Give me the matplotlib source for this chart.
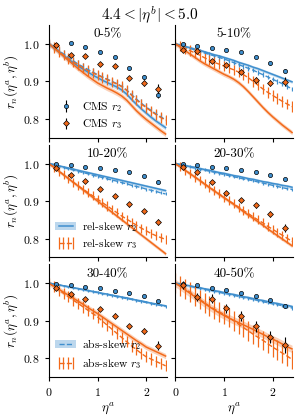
import matplotlib
matplotlib.use("Agg")

import numpy as np
import matplotlib.pyplot as plt
from matplotlib.patches import Patch
from matplotlib.lines import Line2D

plt.rcParams['font.family'] = 'serif'
plt.rcParams['font.serif'] = ['cmr10']
plt.rcParams['mathtext.fontset'] = 'cm'
plt.rcParams['axes.formatter.use_mathtext'] = True
plt.rcParams['axes.unicode_minus'] = False

BLUE = '#3f8fce'
ORANGE = '#f26a1b'

TITLES = ['0-5%', '5-10%', '10-20%', '20-30%', '30-40%', '40-50%']

# model curves on the eta^a grid
ETA = [0.0, 0.1, 0.2, 0.3, 0.4, 0.5, 0.6, 0.7, 0.8, 0.9, 1.0, 1.1, 1.2,
       1.3, 1.4, 1.5, 1.6, 1.7, 1.8, 1.9, 2.0, 2.1, 2.2, 2.3, 2.4]

R2_REL = [
    [1.000, 0.990, 0.980, 0.969, 0.959, 0.950, 0.941, 0.933, 0.925, 0.917, 0.910, 0.903, 0.897,
     0.891, 0.885, 0.877, 0.866, 0.852, 0.839, 0.827, 0.816, 0.805, 0.795, 0.786, 0.777],
    [1.000, 0.997, 0.993, 0.990, 0.986, 0.983, 0.979, 0.975, 0.971, 0.968, 0.964, 0.960, 0.956,
     0.951, 0.947, 0.943, 0.938, 0.934, 0.929, 0.924, 0.919, 0.914, 0.909, 0.904, 0.899],
    [1.000, 0.997, 0.994, 0.991, 0.988, 0.985, 0.982, 0.979, 0.976, 0.973, 0.970, 0.967, 0.964,
     0.961, 0.958, 0.955, 0.952, 0.949, 0.946, 0.943, 0.940, 0.937, 0.934, 0.931, 0.928],
    [1.000, 0.997, 0.995, 0.992, 0.990, 0.987, 0.984, 0.982, 0.979, 0.976, 0.974, 0.971, 0.968,
     0.966, 0.963, 0.960, 0.958, 0.955, 0.952, 0.950, 0.947, 0.945, 0.942, 0.940, 0.937],
    [1.000, 0.998, 0.996, 0.993, 0.991, 0.988, 0.986, 0.983, 0.981, 0.978, 0.976, 0.973, 0.971,
     0.968, 0.966, 0.963, 0.961, 0.958, 0.955, 0.953, 0.950, 0.947, 0.945, 0.942, 0.940],
    [1.000, 0.998, 0.995, 0.993, 0.990, 0.988, 0.985, 0.983, 0.980, 0.978, 0.975, 0.972, 0.970,
     0.967, 0.964, 0.962, 0.959, 0.956, 0.954, 0.951, 0.948, 0.946, 0.943, 0.941, 0.938],
]
R2_ABS = [
    [1.000, 0.991, 0.982, 0.973, 0.964, 0.955, 0.946, 0.939, 0.932, 0.925, 0.918, 0.912, 0.906,
     0.900, 0.894, 0.887, 0.877, 0.865, 0.853, 0.842, 0.832, 0.823, 0.814, 0.806, 0.798],
    [1.000, 0.996, 0.992, 0.988, 0.984, 0.980, 0.976, 0.972, 0.968, 0.964, 0.960, 0.955, 0.950,
     0.945, 0.940, 0.935, 0.930, 0.924, 0.918, 0.912, 0.906, 0.900, 0.894, 0.887, 0.880],
    [1.000, 0.997, 0.993, 0.990, 0.986, 0.983, 0.980, 0.976, 0.973, 0.969, 0.966, 0.963, 0.959,
     0.956, 0.953, 0.949, 0.946, 0.942, 0.939, 0.936, 0.932, 0.929, 0.926, 0.922, 0.919],
    [1.000, 0.997, 0.994, 0.991, 0.988, 0.985, 0.983, 0.980, 0.977, 0.974, 0.971, 0.968, 0.965,
     0.962, 0.959, 0.957, 0.954, 0.951, 0.948, 0.945, 0.942, 0.939, 0.936, 0.933, 0.931],
    [1.000, 0.998, 0.995, 0.993, 0.990, 0.988, 0.985, 0.983, 0.980, 0.978, 0.975, 0.972, 0.970,
     0.967, 0.964, 0.962, 0.959, 0.957, 0.954, 0.951, 0.949, 0.946, 0.943, 0.941, 0.938],
    [1.000, 0.997, 0.995, 0.992, 0.989, 0.987, 0.984, 0.981, 0.979, 0.976, 0.973, 0.971, 0.968,
     0.965, 0.962, 0.960, 0.957, 0.954, 0.951, 0.948, 0.945, 0.943, 0.940, 0.937, 0.934],
]
R3_REL = [
    [1.000, 0.989, 0.978, 0.967, 0.956, 0.945, 0.934, 0.924, 0.914, 0.905, 0.896, 0.889, 0.882,
     0.876, 0.869, 0.861, 0.850, 0.836, 0.822, 0.810, 0.799, 0.789, 0.779, 0.769, 0.760],
    [1.000, 0.991, 0.982, 0.973, 0.964, 0.955, 0.947, 0.940, 0.933, 0.926, 0.919, 0.913, 0.906,
     0.897, 0.886, 0.873, 0.859, 0.845, 0.831, 0.818, 0.806, 0.795, 0.784, 0.774, 0.764],
    [1.000, 0.990, 0.980, 0.970, 0.960, 0.950, 0.940, 0.930, 0.920, 0.910, 0.900, 0.890, 0.880,
     0.870, 0.860, 0.850, 0.840, 0.830, 0.820, 0.810, 0.800, 0.790, 0.780, 0.770, 0.760],
    [1.000, 0.991, 0.982, 0.973, 0.964, 0.955, 0.945, 0.936, 0.927, 0.918, 0.909, 0.900, 0.891,
     0.882, 0.872, 0.863, 0.854, 0.845, 0.836, 0.826, 0.817, 0.808, 0.799, 0.790, 0.781],
    [1.000, 0.992, 0.984, 0.976, 0.968, 0.960, 0.952, 0.944, 0.935, 0.927, 0.919, 0.910, 0.901,
     0.892, 0.883, 0.874, 0.865, 0.856, 0.847, 0.839, 0.830, 0.824, 0.818, 0.812, 0.806],
    [1.000, 0.991, 0.982, 0.973, 0.964, 0.955, 0.946, 0.937, 0.929, 0.921, 0.914, 0.907, 0.901,
     0.895, 0.889, 0.883, 0.877, 0.870, 0.864, 0.857, 0.851, 0.845, 0.838, 0.831, 0.825],
]
R3_ABS = [
    [1.000, 0.990, 0.980, 0.970, 0.961, 0.952, 0.944, 0.936, 0.929, 0.923, 0.917, 0.911, 0.905,
     0.899, 0.893, 0.886, 0.876, 0.863, 0.851, 0.840, 0.830, 0.821, 0.812, 0.804, 0.797],
    [1.000, 0.994, 0.988, 0.982, 0.976, 0.970, 0.963, 0.957, 0.951, 0.946, 0.941, 0.936, 0.931,
     0.925, 0.918, 0.910, 0.900, 0.890, 0.880, 0.871, 0.863, 0.855, 0.847, 0.840, 0.833],
    [1.000, 0.990, 0.980, 0.970, 0.960, 0.950, 0.941, 0.932, 0.923, 0.914, 0.905, 0.896, 0.887,
     0.878, 0.869, 0.860, 0.852, 0.844, 0.836, 0.828, 0.821, 0.814, 0.808, 0.803, 0.798],
    [1.000, 0.991, 0.982, 0.973, 0.964, 0.955, 0.946, 0.937, 0.928, 0.919, 0.910, 0.901, 0.893,
     0.884, 0.875, 0.867, 0.858, 0.850, 0.842, 0.833, 0.825, 0.817, 0.809, 0.801, 0.793],
    [1.000, 0.991, 0.982, 0.973, 0.964, 0.955, 0.946, 0.937, 0.928, 0.919, 0.910, 0.899, 0.888,
     0.877, 0.866, 0.855, 0.844, 0.833, 0.823, 0.813, 0.804, 0.798, 0.792, 0.786, 0.780],
    [1.000, 0.993, 0.985, 0.976, 0.966, 0.957, 0.948, 0.939, 0.931, 0.924, 0.917, 0.909, 0.900,
     0.891, 0.882, 0.873, 0.864, 0.856, 0.848, 0.839, 0.830, 0.822, 0.814, 0.806, 0.797],
]
# band half widths / error bar sizes per panel
R2_BAND = [0.006, 0.004, 0.004, 0.004, 0.003, 0.004]
R3_BAND = [0.007, 0.006, 0.005, 0.005, 0.007, 0.010]
R2_ERR = [0.010, 0.006, 0.004, 0.004, 0.003, 0.004]
R3_ERR = [0.014, 0.014, 0.012, 0.012, 0.015, 0.026]

# CMS data
CMS_ETA = [0.15, 0.45, 0.75, 1.05, 1.35, 1.65, 1.95, 2.25]
CMS_R2 = [
    [0.998, 1.002, 0.992, 0.978, 0.965, 0.935, 0.911, 0.865],
    [1.000, 0.995, 0.990, 0.984, 0.979, 0.966, 0.948, 0.929],
    [1.000, 0.996, 0.991, 0.988, 0.983, 0.977, 0.966, 0.952],
    [1.000, 0.996, 0.992, 0.989, 0.984, 0.978, 0.969, 0.959],
    [0.998, 0.994, 0.991, 0.987, 0.980, 0.974, 0.966, 0.952],
    [0.997, 0.994, 0.988, 0.983, 0.975, 0.967, 0.956, 0.939],
]
CMS_R3 = [
    [0.996, 0.971, 0.969, 0.946, 0.941, 0.909, 0.897, 0.881],
    [0.984, 0.980, 0.955, 0.944, 0.926, 0.904, 0.895, 0.899],
    [0.989, 0.969, 0.953, 0.931, 0.914, 0.891, 0.874, 0.845],
    [0.990, 0.978, 0.951, 0.921, 0.904, 0.889, 0.866, 0.829],
    [0.987, 0.970, 0.958, 0.931, 0.914, 0.886, 0.873, 0.834],
    [0.995, 0.963, 0.959, 0.933, 0.913, 0.885, 0.858, 0.835],
]
CMS_R2_ERR = [
    [0.002, 0.002, 0.002, 0.003, 0.003, 0.004, 0.005, 0.010],
    [0.002, 0.002, 0.002, 0.002, 0.002, 0.002, 0.003, 0.005],
    [0.002, 0.002, 0.002, 0.002, 0.002, 0.002, 0.002, 0.003],
    [0.002, 0.002, 0.002, 0.002, 0.002, 0.002, 0.002, 0.003],
    [0.002, 0.002, 0.002, 0.002, 0.002, 0.002, 0.002, 0.003],
    [0.002, 0.002, 0.002, 0.002, 0.002, 0.002, 0.003, 0.004],
]
CMS_R3_ERR = [
    [0.003, 0.003, 0.004, 0.004, 0.005, 0.006, 0.008, 0.013],
    [0.003, 0.004, 0.004, 0.005, 0.006, 0.007, 0.008, 0.012],
    [0.003, 0.004, 0.004, 0.005, 0.005, 0.006, 0.006, 0.008],
    [0.003, 0.004, 0.004, 0.005, 0.005, 0.006, 0.007, 0.010],
    [0.003, 0.004, 0.005, 0.005, 0.006, 0.006, 0.007, 0.012],
    [0.010, 0.010, 0.012, 0.012, 0.013, 0.014, 0.016, 0.022],
]


def draw_panel(ax, i):
    x = np.array(ETA)
    r2 = np.array(R2_REL[i])
    r3 = np.array(R3_REL[i])
    ax.fill_between(x, r2 - R2_BAND[i], r2 + R2_BAND[i], color=BLUE, alpha=0.3, lw=0)
    ax.plot(x, r2, color=BLUE, lw=1.1)
    ax.fill_between(x, r3 - R3_BAND[i], r3 + R3_BAND[i], color=ORANGE, alpha=0.3, lw=0)
    ax.plot(x, r3, color=ORANGE, lw=1.1)
    e2 = ax.errorbar(ETA, R2_ABS[i], yerr=R2_ERR[i], color=BLUE, ls='--', lw=1.0,
                     elinewidth=0.9, capsize=0)
    e3 = ax.errorbar(ETA, R3_ABS[i], yerr=R3_ERR[i], color=ORANGE, ls='--', lw=1.0,
                     elinewidth=0.9, capsize=0)
    c2 = ax.errorbar(CMS_ETA, CMS_R2[i], yerr=CMS_R2_ERR[i], fmt='o', ms=3.0, mfc=BLUE,
                     mec='k', mew=0.5, ecolor='k', elinewidth=0.8, capsize=0, zorder=5)
    c3 = ax.errorbar(CMS_ETA, CMS_R3[i], yerr=CMS_R3_ERR[i], fmt='D', ms=3.0, mfc=ORANGE,
                     mec='k', mew=0.5, ecolor='k', elinewidth=0.8, capsize=0, zorder=5)
    ax.text(0.5, 0.97, TITLES[i], transform=ax.transAxes, ha='center', va='top', fontsize=9.5)
    return e2, e3, c2, c3


fig, axes = plt.subplots(3, 2, figsize=(2.99, 4.19), dpi=100, sharex=True, sharey=True)
fig.subplots_adjust(left=0.164, right=0.98, top=0.94, bottom=0.10, wspace=0.076, hspace=0.062)

handles = []
for i, ax in enumerate(axes.flat):
    handles.append(draw_panel(ax, i))
    ax.set_xlim(0, 2.42)
    ax.set_ylim(0.75, 1.05)
    ax.set_xticks([0, 1, 2])
    ax.set_yticks([0.8, 0.9, 1.0])
    ax.spines['top'].set_visible(False)
    ax.spines['right'].set_visible(False)
    ax.tick_params(labelsize=8.5, length=3, width=0.8)

for ax in axes[:, 0]:
    ax.set_ylabel(r'$r_n(\eta^a,\eta^b)$', fontsize=9.5, labelpad=2)
for ax in axes[-1, :]:
    ax.set_xlabel(r'$\eta^a$', fontsize=9.5, labelpad=2)

leg_kw = dict(loc='lower left', frameon=False, fontsize=8.3, handlelength=1.8,
              handletextpad=0.5, labelspacing=0.3, borderaxespad=0.15)

h = handles[0]
axes[0, 0].legend([h[2], h[3]], [r'CMS $r_2$', r'CMS $r_3$'], **leg_kw)

h = handles[2]
rel2 = (Patch(facecolor=BLUE, alpha=0.35, lw=0), Line2D([], [], color=BLUE, lw=1.1))
axes[1, 0].legend([rel2, h[1]], [r'rel-skew $r_2$', r'rel-skew $r_3$'], numpoints=4, **leg_kw)

h = handles[4]
abs2 = (Patch(facecolor=BLUE, alpha=0.35, lw=0), Line2D([], [], color=BLUE, lw=1.0, ls='--'))
axes[2, 0].legend([abs2, h[1]], [r'abs-skew $r_2$', r'abs-skew $r_3$'], numpoints=4, **leg_kw)

fig.suptitle(r'$4.4 < |\eta^b| < 5.0$', fontsize=11, y=0.99)

fig.savefig('out.png', dpi=100)
